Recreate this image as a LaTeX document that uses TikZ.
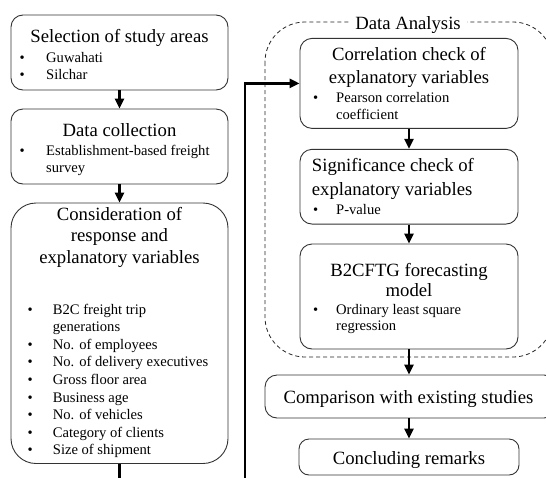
\documentclass[tikz,border=0pt]{standalone}
\usepackage{fontspec}
\setmainfont{Liberation Serif}
\usetikzlibrary{arrows.meta}
\newcommand{\bul}[1]{\makebox[#1][l]{\textbullet}}

\begin{document}
\begin{tikzpicture}[x=1pt, y=-1pt,
		box/.style = {draw=black!80, line width=0.9pt, rounded corners=12pt, inner sep=0pt},
		title/.style = {font=\fontsize{18.7}{22}\selectfont, inner sep=0pt, align=center, anchor=base},
		items/.style = {font=\fontsize{14.6}{16.5}\selectfont, inner sep=0pt, align=left, anchor=base west},
		conn/.style = {line width=2.6pt, -{Triangle[length=10pt, width=9pt]}}]
		\useasboundingbox (0,0) rectangle (546,477);
		% data analysis frame
		\draw[dashed, dash pattern=on 4pt off 3pt, line width=0.8pt, black!85, rounded corners=40pt] (265,22) rectangle (553,357);
		\node[title, fill=white, inner xsep=6pt, inner ysep=1pt] (analysis) at (408,29.5) {Data Analysis};
		% left column (multi-line texts sit on their last baseline)
		\node[box, minimum width=217pt, minimum height=75pt] (areas) at (119.5,52.5) {};
		\node[title] (areast) at (119.5,42) {Selection of study areas};
		\node[items] (areasl) at (19.5,79) {\bul{26.5pt}Guwahati\\\bul{26.5pt}Silchar};
		\node[box, minimum width=217pt, minimum height=75pt] (collect) at (119.5,146.5) {};
		\node[title] (collectt) at (119.5,136) {Data collection};
		\node[items] (collectl) at (19.5,172.2) {\bul{26.5pt}Establishment-based freight\\\hspace*{26.5pt}survey};
		\node[box, rounded corners=25pt, minimum width=217pt, minimum height=260.5pt] (vars) at (119.5,333.25) {};
		\node[title, font=\fontsize{18.7}{21.5}\selectfont] (varst) at (119.5,263) {Consideration of\\response and\\explanatory variables};
		\node[items, font=\fontsize{14.6}{17.6}\selectfont] (varsl) at (27.5,454.8) {\bul{25.2pt}B2C freight trip\\\hspace*{25.2pt}generations\\
			\bul{25.2pt}No. of employees\\\bul{25.2pt}No. of delivery executives\\\bul{25.2pt}Gross floor area\\
			\bul{25.2pt}Business age\\\bul{25.2pt}No. of vehicles\\\bul{25.2pt}Category of clients\\\bul{25.2pt}Size of shipment};
		% right column
		\node[box, minimum width=218pt, minimum height=90pt] (corr) at (409,83.4) {};
		\node[title, font=\fontsize{18.7}{22.6}\selectfont] (corrt) at (409,83.3) {Correlation check of\\explanatory variables};
		\node[items, font=\fontsize{14.6}{16.6}\selectfont] (corrl) at (313,119.3) {\bul{23pt}Pearson correlation\\\hspace*{23pt}coefficient};
		\node[box, minimum width=218pt, minimum height=74.7pt] (signif) at (409,186.7) {};
		\node[title, align=left, anchor=base west, font=\fontsize{18.7}{24}\selectfont] (signift) at (311.7,195.7) {Significance check of\\explanatory variables};
		\node[items] (signifl) at (313,214.3) {\bul{23pt}P-value};
		\node[box, minimum width=218pt, minimum height=105pt] (model) at (409,296.5) {};
		\node[title, font=\fontsize{18.7}{20}\selectfont] (modelt) at (409,296.7) {B2CFTG forecasting\\model};
		\node[items, font=\fontsize{14.6}{16}\selectfont] (modell) at (313,330) {\bul{23pt}Ordinary least square\\\hspace*{23pt}regression};
		\node[box, minimum width=291pt, minimum height=43pt] (compare) at (410.5,396.5) {};
		\node[title] (comparet) at (408.5,403.3) {Comparison with existing studies};
		\node[box, rounded corners=10pt, minimum width=220pt, minimum height=36pt] (remarks) at (409,457) {};
		\node[title] (remarkst) at (409,464) {Concluding remarks};
		% arrows
		\coordinate (turn) at (245,495);
		\draw[conn] (areas) -- (collect);
		\draw[conn] (collect) -- (vars);
		\draw[conn] (vars.south) |- (turn) |- (corr.west);
		\draw[conn] (corr) -- (signif);
		\draw[conn] (signif) -- (model);
		\draw[conn] ([xshift=-1.5pt]compare.north |- model.south) -- ([xshift=-1.5pt]compare.north);
		\draw[conn] (compare.south -| remarks) -- (remarks);
	\end{tikzpicture}
\end{document}
